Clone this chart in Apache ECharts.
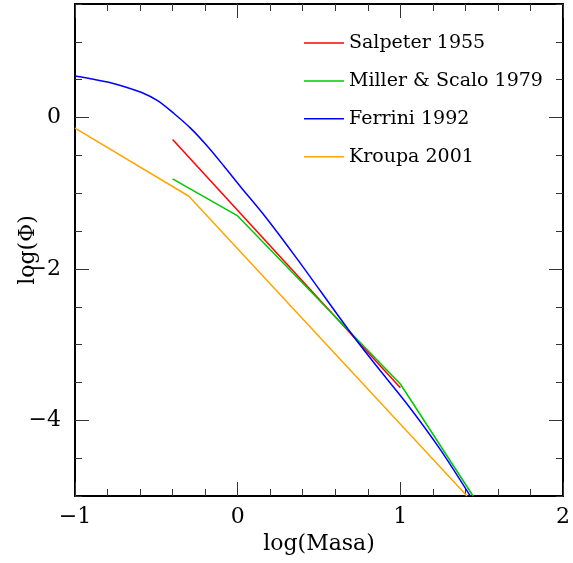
<!DOCTYPE html>
<html>
<head>
<meta charset="utf-8">
<script src="https://cdn.jsdelivr.net/npm/echarts@6/dist/echarts.min.js"></script>
<style>
html,body{margin:0;padding:0;background:#fff;}
#chart{width:573px;height:563px;}
</style>
</head>
<body>
<div id="chart"></div>
<script>
// ---- data ----
const seriesNames = ['Salpeter 1955', 'Miller & Scalo 1979', 'Ferrini 1992', 'Kroupa 2001'];

const salpeterLogM   = [-0.40, 1.00];
const salpeterLogPhi = [-0.29, -3.57];

const millerLogM   = [-0.40, 0.00, 1.00, 1.447];
const millerLogPhi = [-0.81, -1.30, -3.52, -5.00];

const ferriniLogM   = [-1.00, -0.80, -0.70, -0.59, -0.49, -0.39, -0.29, -0.19, -0.085, 0.02, 0.17, 0.37, 0.68, 0.86, 1.054, 1.247, 1.43];
const ferriniLogPhi = [0.55, 0.47, 0.41, 0.33, 0.22, 0.05, -0.14, -0.37, -0.64, -0.92, -1.31, -1.88, -2.80, -3.30, -3.82, -4.39, -5.00];

const kroupaLogM   = [-1.00, -0.30, 1.41];
const kroupaLogPhi = [-0.14, -1.04, -5.00];

const xTickValues = [-1, 0, 1, 2];
const yTickValues = [-4, -2, 0];

// ---- chart ----
const FONT = 'DejaVu Serif';
const zip = (xs, ys) => xs.map((x, i) => [x, ys[i]]);
const fmt = v => (v < 0 ? '\u2212' + Math.abs(v) : String(v));
const tickColor = '#333';

const xBase = {
  type: 'value', min: -1, max: 2, interval: 1,
  axisLine: { show: true, onZero: false, lineStyle: { color: '#000', width: 2 } },
  axisTick: { show: true, inside: true, length: 14, lineStyle: { color: tickColor, width: 1 } },
  minorTick: { show: true, splitNumber: 5, length: 7, lineStyle: { color: tickColor, width: 1 } },
  splitLine: { show: false }, minorSplitLine: { show: false }
};
const yMinor = {
  type: 'value', min: -5, max: 1.5, interval: 0.5,
  axisLine: { show: true, onZero: false, lineStyle: { color: '#000', width: 2 } },
  axisTick: { show: true, inside: true, length: 7, lineStyle: { color: tickColor, width: 1 } },
  axisLabel: { show: false },
  splitLine: { show: false }
};
const yMajor = {
  type: 'value', min: -5, max: 1.5,
  axisLine: { show: false, onZero: false },
  axisTick: { show: true, inside: true, length: 14, customValues: yTickValues, lineStyle: { color: tickColor, width: 1 } },
  splitLine: { show: false }
};

const chart = echarts.init(document.getElementById('chart'), null, { renderer: 'canvas' });
chart.setOption({
  animation: false,
  backgroundColor: '#fff',
  grid: { left: 75, right: 7, top: 4, bottom: 67, containLabel: false },
  legend: {
    orient: 'vertical', left: 304, top: 33.5, padding: 0,
    itemWidth: 40, itemHeight: 14, itemGap: 18.9,
    icon: 'path://M0,0L40,0L40,1.5L0,1.5Z',
    data: seriesNames,
    textStyle: { fontFamily: FONT, fontSize: 19, color: '#000' }
  },
  xAxis: [
    Object.assign({}, xBase, {
      position: 'bottom',
      axisLabel: { show: true, margin: 10, fontFamily: FONT, fontSize: 22, color: '#000',
                   customValues: xTickValues, formatter: fmt },
      name: 'log(Masa)', nameLocation: 'middle', nameGap: 33,
      nameTextStyle: { fontFamily: FONT, fontSize: 22, color: '#000' }
    }),
    Object.assign({}, xBase, { position: 'top', axisLabel: { show: false } })
  ],
  yAxis: [
    Object.assign({}, yMinor, {
      position: 'left',
      name: 'log(\u03A6)', nameLocation: 'middle', nameGap: 36, nameRotate: 90,
      nameTextStyle: { fontFamily: FONT, fontSize: 22, color: '#000' }
    }),
    Object.assign({}, yMajor, {
      position: 'left',
      axisLabel: { show: true, margin: 14, fontFamily: FONT, fontSize: 22, color: '#000',
                   customValues: yTickValues, formatter: fmt }
    }),
    Object.assign({}, yMinor, { position: 'right' }),
    Object.assign({}, yMajor, { position: 'right', axisLabel: { show: false } })
  ],
  series: [
    { name: seriesNames[0], type: 'line', data: zip(salpeterLogM, salpeterLogPhi), color: '#ff0000' },
    { name: seriesNames[1], type: 'line', data: zip(millerLogM, millerLogPhi), color: '#00c800' },
    { name: seriesNames[2], type: 'line', data: zip(ferriniLogM, ferriniLogPhi), color: '#0000ff', smooth: 0.3 },
    { name: seriesNames[3], type: 'line', data: zip(kroupaLogM, kroupaLogPhi), color: '#ffa500' }
  ].map(s => Object.assign({
    xAxisIndex: 0, yAxisIndex: 0, symbol: 'none', showSymbol: false, smooth: false,
    lineStyle: { width: 1.5, color: s.color }, itemStyle: { color: s.color }, clip: true
  }, s))
});
</script>
</body>
</html>
